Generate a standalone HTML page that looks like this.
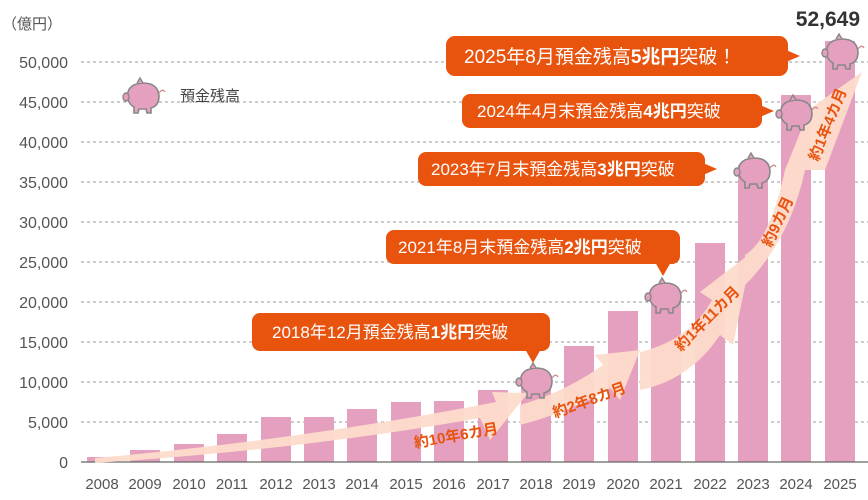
<!DOCTYPE html><html><head><meta charset="utf-8"><style>body{margin:0;background:#fff}svg{display:block;font-family:"Liberation Sans","Noto Sans CJK JP",sans-serif}</style></head><body>
<svg width="868" height="500" viewBox="0 0 868 500">
<defs>
<g id="pig"><path d="M-15,4 Q-18,-12 0,-13 Q15,-13 16,0 Q16,10 8,12 L8,17 L4,17 L3,13 L-4,13 L-5,17 L-9,17 L-9,11 Q-13,9 -15,4 Z" fill="#e4a0be" stroke="#888" stroke-width="1.6"/><ellipse cx="-17" cy="1" rx="3" ry="4" fill="#e4a0be" stroke="#888" stroke-width="1.4"/><path d="M-6,-13 L-3,-18 L0,-13" fill="#e4a0be" stroke="#888" stroke-width="1.4"/><path d="M16,-3 q4,-5 6,-1" fill="none" stroke="#c88" stroke-width="1.2"/></g>
</defs>
<g font-size="16" fill="#555" text-anchor="end">
<text x="68" y="68">50,000</text><text x="68" y="108">45,000</text><text x="68" y="148">40,000</text><text x="68" y="188">35,000</text><text x="68" y="228">30,000</text><text x="68" y="268">25,000</text><text x="68" y="308">20,000</text><text x="68" y="348">15,000</text><text x="68" y="388">10,000</text><text x="68" y="428">5,000</text><text x="68" y="468">0</text>
</g>
<text x="2" y="29" font-size="15" fill="#555">（億円）</text>
<g stroke="#999" stroke-dasharray="3,3" stroke-width="1">
<line x1="81" y1="62" x2="868" y2="62"/><line x1="81" y1="102" x2="868" y2="102"/><line x1="81" y1="142" x2="868" y2="142"/><line x1="81" y1="182" x2="868" y2="182"/><line x1="81" y1="222" x2="868" y2="222"/><line x1="81" y1="262" x2="868" y2="262"/><line x1="81" y1="302" x2="868" y2="302"/><line x1="81" y1="342" x2="868" y2="342"/><line x1="81" y1="382" x2="868" y2="382"/><line x1="81" y1="422" x2="868" y2="422"/>
</g>
<g fill="#e4a0be">
<rect x="87" y="457" width="30" height="5"/><rect x="130" y="450" width="30" height="12"/><rect x="174" y="444" width="30" height="18"/><rect x="217" y="434" width="30" height="28"/><rect x="261" y="417" width="30" height="45"/><rect x="304" y="417" width="30" height="45"/><rect x="347" y="409" width="30" height="53"/><rect x="391" y="402" width="30" height="60"/><rect x="434" y="401" width="30" height="61"/><rect x="478" y="390" width="30" height="72"/><rect x="521" y="378" width="30" height="84"/><rect x="564" y="346" width="30" height="116"/><rect x="608" y="311" width="30" height="151"/><rect x="651" y="294" width="30" height="168"/><rect x="695" y="243" width="30" height="219"/><rect x="738" y="165" width="30" height="297"/><rect x="781" y="95" width="30" height="367"/><rect x="825" y="41" width="30" height="421"/>
</g>
<line x1="81" y1="462" x2="868" y2="462" stroke="#666" stroke-width="1.2"/>
<g font-size="15" fill="#555" text-anchor="middle">
<text x="102" y="489">2008</text><text x="145" y="489">2009</text><text x="189" y="489">2010</text><text x="232" y="489">2011</text><text x="276" y="489">2012</text><text x="319" y="489">2013</text><text x="362" y="489">2014</text><text x="406" y="489">2015</text><text x="449" y="489">2016</text><text x="493" y="489">2017</text><text x="536" y="489">2018</text><text x="579" y="489">2019</text><text x="623" y="489">2020</text><text x="666" y="489">2021</text><text x="710" y="489">2022</text><text x="753" y="489">2023</text><text x="796" y="489">2024</text><text x="840" y="489">2025</text>
</g>
<g fill="#fddccb" opacity="0.95">
<path d="M95,463 Q300,450 480,418 L490,440 L528,393 L492,392 L496,402 Q300,440 95,458 Z"/>
<path d="M520,425 Q570,412 610,388 L620,400 L640,350 L595,355 L603,365 Q565,392 520,405 Z"/>
<path d="M640,390 Q690,380 720,335 L733,345 L752,252 L700,292 L712,300 Q690,340 640,352 Z"/>
<path d="M745,285 Q790,240 805,170 L825,170 L862,72 L808,110 L806,118 L785,170 Q770,240 745,255 Z"/>
</g>
<g fill="#e8530e" font-weight="bold" font-size="15">
<text transform="translate(415,448) rotate(-10)">約10年6カ月</text>
<text transform="translate(555,418) rotate(-20)">約2年8カ月</text>
<text transform="translate(681,352) rotate(-45)">約1年11カ月</text>
<text transform="translate(771,248) rotate(-65)">約9カ月</text>
<text transform="translate(818,162) rotate(-68)">約1年4カ月</text>
</g>
<use href="#pig" x="536" y="381"/><use href="#pig" x="665" y="296"/><use href="#pig" x="754" y="171"/><use href="#pig" x="796" y="113"/><use href="#pig" x="842" y="52"/>
<use href="#pig" x="143" y="96"/>
<text x="180" y="101" font-size="15" fill="#444">預金残高</text>
<g fill="#e8530e">
<rect x="446" y="36" width="342" height="40" rx="9"/><path d="M786,50 L800,56 L786,62Z"/>
<rect x="462" y="94" width="300" height="34" rx="8"/><path d="M760,105 L774,111 L760,117Z"/>
<rect x="418" y="152" width="287" height="34" rx="8"/><path d="M703,163 L717,169 L703,175Z"/>
<rect x="386" y="230" width="294" height="34" rx="8"/><path d="M655,262 L663,276 L671,262Z"/>
<rect x="252" y="313" width="298" height="38" rx="8"/><path d="M525,349 L533,363 L541,349Z"/>
</g>
<g fill="#fff" font-size="17">
<text x="464" y="63" font-size="19">2025年8月預金残高<tspan font-weight="bold">5兆円</tspan>突破！</text>
<text x="477" y="117">2024年4月末預金残高<tspan font-weight="bold">4兆円</tspan>突破</text>
<text x="431" y="175">2023年7月末預金残高<tspan font-weight="bold">3兆円</tspan>突破</text>
<text x="398" y="253">2021年8月末預金残高<tspan font-weight="bold">2兆円</tspan>突破</text>
<text x="272" y="338">2018年12月預金残高<tspan font-weight="bold">1兆円</tspan>突破</text>
</g>
<text x="860" y="26" font-size="21" font-weight="bold" fill="#333" text-anchor="end">52,649</text>
</svg>
</body></html>
